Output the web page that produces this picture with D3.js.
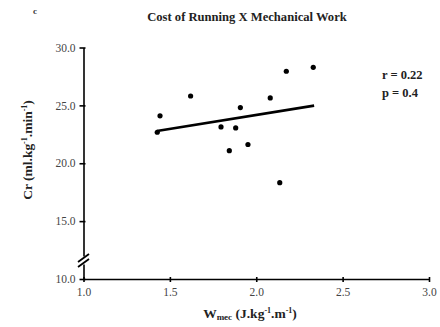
<!DOCTYPE html>
<html><head><meta charset="utf-8">
<script src="https://cdn.jsdelivr.net/npm/d3@7"></script>
<style>body{margin:0;background:#fff}svg{display:block}</style>
</head><body>
<svg id="c" width="440" height="327"></svg>
<script>
const wmec = [1.427,1.443,1.62,1.796,1.881,1.908,1.844,1.952,2.081,2.174,2.33,2.136];
const cr   = [22.68,24.1,25.81,23.14,23.05,24.81,21.09,21.62,25.64,27.95,28.29,18.32];
const trendX = [1.425,2.335];
const trendY = [22.78,24.98];
const xTicks = [1.0,1.5,2.0,2.5,3.0];
const yTicks = [10,15,20,25,30];

const svg = d3.select("#c");
const x = d3.scaleLinear().domain([1,3]).range([83.5,429]);
const y = d3.scaleLinear().domain([10,30]).range([279,47.5]);
const serif = "'Liberation Serif','Times New Roman',serif";

// axes
const xa = svg.append("g").attr("transform","translate(0,279)")
  .call(d3.axisBottom(x).tickValues(xTicks).tickFormat(d3.format(".1f")).tickSizeInner(4).tickSizeOuter(0));
const ya = svg.append("g").attr("transform","translate(83.5,0)")
  .call(d3.axisLeft(y).tickValues(yTicks).tickFormat(d3.format(".1f")).tickSizeInner(4).tickSizeOuter(0));
[xa,ya].forEach(a=>{
  a.select(".domain").attr("stroke","#000").attr("stroke-width",1.6);
  a.selectAll(".tick line").attr("stroke","#000").attr("stroke-width",1.6);
  a.selectAll(".tick text").attr("font-family",serif).attr("font-size",11.5).attr("fill","#444");
});
xa.selectAll(".tick line").attr("y1",-2).attr("y2",3);
xa.selectAll(".tick text").attr("y",9);
ya.selectAll(".tick line").attr("x1",2).attr("x2",-4);
ya.selectAll(".tick text").attr("x",-8);

// axis break marks
const by = y(11.6);
svg.append("rect").attr("x",80).attr("y",by-4).attr("width",7).attr("height",8).attr("fill","#fff");
[-2.5,2.5].forEach(o=>{
  svg.append("line").attr("x1",78).attr("y1",by+o+4).attr("x2",89).attr("y2",by+o-4)
    .attr("stroke","#000").attr("stroke-width",1.8);
});

// trend line
svg.append("line")
  .attr("x1",x(trendX[0])).attr("y1",y(trendY[0]))
  .attr("x2",x(trendX[1])).attr("y2",y(trendY[1]))
  .attr("stroke","#000").attr("stroke-width",2.6);

// points
svg.append("g").selectAll("circle").data(wmec).join("circle")
  .attr("cx",d=>x(d)).attr("cy",(d,i)=>y(cr[i])).attr("r",2.6).attr("fill","#000");

// texts
svg.append("text").attr("x",33).attr("y",14).attr("font-family",serif).attr("font-weight","bold")
  .attr("font-size",9).attr("fill","#333").text("c");
svg.append("text").attr("x",247).attr("y",21).attr("text-anchor","middle").attr("font-family",serif)
  .attr("font-weight","bold").attr("font-size",12.6).attr("fill","#222").text("Cost of Running X Mechanical  Work");
svg.append("text").attr("x",382).attr("y",79).attr("font-family",serif).attr("font-weight","bold")
  .attr("font-size",12.5).attr("fill","#222").text("r = 0.22");
svg.append("text").attr("x",382).attr("y",97).attr("font-family",serif).attr("font-weight","bold")
  .attr("font-size",12.5).attr("fill","#222").text("p = 0.4");

const xl = svg.append("text").attr("x",250).attr("y",318).attr("text-anchor","middle")
  .attr("font-family",serif).attr("font-weight","bold").attr("font-size",13.5).attr("fill","#222");
xl.append("tspan").text("W");
xl.append("tspan").attr("font-size",9).attr("dy",2).text("mec");
xl.append("tspan").attr("dy",-2).text(" (J.kg");
xl.append("tspan").attr("font-size",8).attr("dy",-5).text("-1");
xl.append("tspan").attr("dy",5).text(".m");
xl.append("tspan").attr("font-size",8).attr("dy",-5).text("-1");
xl.append("tspan").attr("dy",5).text(")");

const yl = svg.append("text").attr("transform","translate(32,150) rotate(-90)").attr("text-anchor","middle")
  .attr("font-family",serif).attr("font-weight","bold").attr("font-size",13.5).attr("fill","#222");
yl.append("tspan").text("Cr  (ml.kg");
yl.append("tspan").attr("font-size",8).attr("dy",-5).text("-1");
yl.append("tspan").attr("dy",5).text(".min");
yl.append("tspan").attr("font-size",8).attr("dy",-5).text("-1");
yl.append("tspan").attr("dy",5).text(")");
</script>
</body></html>
